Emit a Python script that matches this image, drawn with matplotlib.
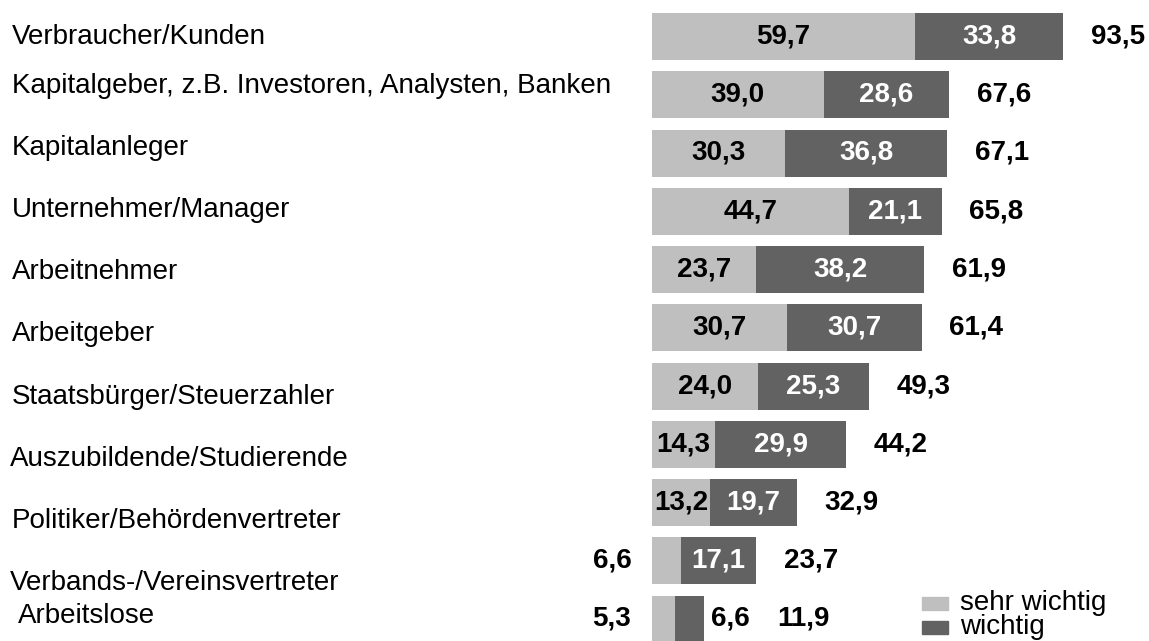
import numpy as np
import matplotlib.pyplot as plt
from matplotlib.patches import Rectangle

plt.rcParams['font.family'] = ['Liberation Sans', 'DejaVu Sans']

categories = ['Verbraucher/Kunden',
              'Kapitalgeber, z.B. Investoren, Analysten, Banken',
              'Kapitalanleger', 'Unternehmer/Manager', 'Arbeitnehmer',
              'Arbeitgeber', 'Staatsbürger/Steuerzahler',
              'Auszubildende/Studierende', 'Politiker/Behördenvertreter',
              'Verbands-/Vereinsvertreter', 'Arbeitslose']
sehr_wichtig = [59.7, 39.0, 30.3, 44.7, 23.7, 30.7, 24.0, 14.3, 13.2, 6.6, 5.3]
wichtig = [33.8, 28.6, 36.8, 21.1, 38.2, 30.7, 25.3, 29.9, 19.7, 17.1, 6.6]
gesamt = [93.5, 67.6, 67.1, 65.8, 61.9, 61.4, 49.3, 44.2, 32.9, 23.7, 11.9]
legend_labels = ['sehr wichtig', 'wichtig']

light = '#bfbfbf'
dark = '#626262'

# label rows sit a little off the bar rows in the original
label_shift = [0, -0.15, -0.08, -0.02, 0.05, 0.1, 0.19, 0.26, 0.32, 0.38, -0.05]
label_x = [12, 12, 12, 12, 12, 12, 12, 10, 12, 10, 18]

W, H = 1149, 641
fig = plt.figure(figsize=(W / 100, H / 100), dpi=100)
ax = fig.add_axes([0, 0, 1, 1])
px = 4.4  # pixels per unit
ax.set_xlim(-652 / px, (W - 652) / px)
row = 58.25
ax.set_ylim((H - 36.5) / row, -36.5 / row)
ax.axis('off')

y = np.arange(len(categories))
h = 47 / row
ax.barh(y, sehr_wichtig, height=h, color=light)
ax.barh(y, wichtig, left=sehr_wichtig, height=h, color=dark)

fs = 20


def fmt(v):
    return f'{v:.1f}'.replace('.', ',')


for i in range(len(categories)):
    ax.text(label_x[i] / W, y[i] + label_shift[i], categories[i],
            transform=ax.get_yaxis_transform(), ha='left', va='center',
            fontsize=fs)
    s, w, t = sehr_wichtig[i], wichtig[i], gesamt[i]
    if s >= 10:
        ax.text(s / 2, y[i], fmt(s), ha='center', va='center',
                fontsize=fs, fontweight='bold', color='black')
    else:
        ax.text(-9.1, y[i], fmt(s), ha='center', va='center',
                fontsize=fs, fontweight='bold', color='black')
    if w >= 10:
        ax.text(s + w / 2, y[i], fmt(w), ha='center', va='center',
                fontsize=fs, fontweight='bold', color='white')
        ax.text(t + 6.2, y[i], fmt(t), ha='left', va='center',
                fontsize=fs, fontweight='bold', color='black')
    else:
        ax.text(s + w + 1.6, y[i], fmt(w), ha='left', va='center',
                fontsize=fs, fontweight='bold', color='black')
        ax.text(t + 16.6, y[i], fmt(t), ha='left', va='center',
                fontsize=fs, fontweight='bold', color='black')

# legend drawn by hand to get the tight line spacing of the original
for k, (lab, col) in enumerate(zip(legend_labels, [light, dark])):
    top = 597 + 24 * k
    fig.patches.append(Rectangle((922 / W, 1 - (top + 13) / H), 26 / W, 13 / H,
                                 transform=fig.transFigure, color=col))
    fig.text(960 / W, 1 - (top + 6) / H, lab, ha='left', va='center',
             fontsize=fs)

fig.savefig('out.png', dpi=100)
